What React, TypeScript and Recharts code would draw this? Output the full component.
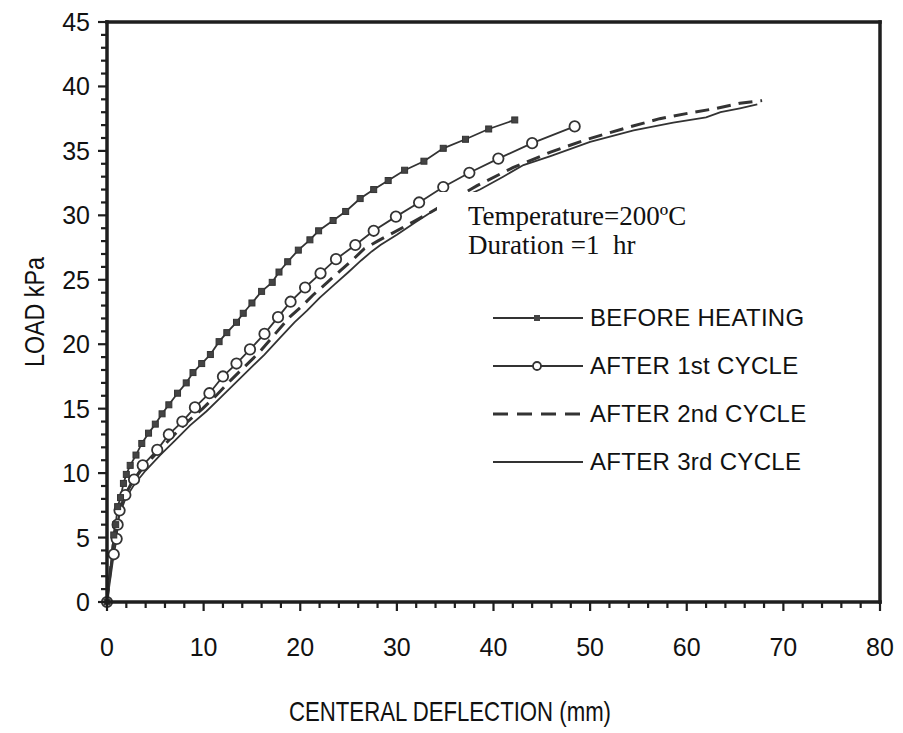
import { LineChart, Line, XAxis, YAxis, Legend, Label } from "recharts";

// deflection (mm), load (kPa)
const beforeHeating: [number, number][] = [
  [0, 0], [0.7, 5.2], [0.9, 6.0], [1.1, 7.4], [1.4, 8.1], [1.7, 9.2], [2.0, 9.9],
  [2.4, 10.6], [3.0, 11.4], [3.6, 12.3], [4.3, 13.1], [5.0, 13.8], [5.7, 14.6],
  [6.4, 15.3], [7.3, 16.2], [8.2, 17.0], [8.9, 17.8], [9.8, 18.5], [10.7, 19.2],
  [11.6, 20.2], [12.4, 20.9], [13.4, 21.7], [14.1, 22.4], [15.0, 23.2], [16.0, 24.1],
  [17.1, 24.8], [17.8, 25.6], [18.7, 26.4], [19.8, 27.3], [21.0, 28.1], [21.9, 28.8],
  [23.4, 29.6], [24.7, 30.3], [26.2, 31.3], [27.6, 32.0], [29.1, 32.7], [30.8, 33.5],
  [32.8, 34.2], [34.8, 35.2], [37.1, 35.9], [39.5, 36.7], [42.2, 37.4],
];

const afterCycle1: [number, number][] = [
  [0, 0], [0.7, 3.7], [1.0, 4.9], [1.1, 6.0], [1.3, 7.1], [1.9, 8.3], [2.8, 9.5],
  [3.7, 10.6], [5.2, 11.8], [6.4, 13.0], [7.8, 14.0], [9.1, 15.1], [10.6, 16.2],
  [12.0, 17.5], [13.4, 18.5], [14.8, 19.6], [16.3, 20.8], [17.7, 22.1], [19.0, 23.3],
  [20.5, 24.4], [22.1, 25.5], [23.7, 26.6], [25.7, 27.7], [27.6, 28.8], [29.9, 29.9],
  [32.3, 31.0], [34.8, 32.2], [37.5, 33.3], [40.5, 34.4], [44.0, 35.6], [48.4, 36.9],
];

const afterCycle2: [number, number][] = [
  [0, 0], [0.5, 3.5], [0.8, 5.5], [1.2, 7.0], [1.8, 8.2], [2.6, 9.3], [3.8, 10.5],
  [5.2, 11.6], [6.6, 12.7], [8.2, 13.9], [9.9, 15.0], [11.4, 16.1], [12.8, 17.2],
  [14.3, 18.3], [15.8, 19.4], [17.4, 20.8], [18.9, 22.1], [20.1, 22.9], [21.3, 23.8],
  [22.8, 24.8], [24.3, 25.8], [25.5, 26.6], [26.6, 27.4], [28.0, 28.0], [29.5, 28.6],
  [31.7, 29.5], [33.4, 30.2], [35.5, 31.1], [38.3, 32.3], [42.0, 33.7], [45.9, 34.9],
  [49.7, 35.9], [53.8, 36.8], [57.2, 37.5], [60.7, 38.0], [63.1, 38.3], [65.5, 38.7],
  [67.8, 38.9],
];

const afterCycle3: [number, number][] = [
  [0, 0], [0.5, 3.3], [0.9, 5.3], [1.3, 6.8], [1.9, 8.0], [2.8, 9.1], [4.0, 10.2],
  [5.5, 11.4], [7.0, 12.5], [8.6, 13.7], [10.3, 14.8], [11.8, 15.9], [13.3, 17.0],
  [14.8, 18.1], [16.3, 19.2], [17.9, 20.5], [19.4, 21.7], [20.7, 22.6], [22.0, 23.6],
  [23.5, 24.6], [25.0, 25.6], [26.3, 26.5], [27.4, 27.2], [28.3, 27.7], [30.0, 28.5],
  [32.0, 29.5], [34.5, 30.7], [36.5, 31.3], [38.6, 32.0], [41.0, 33.0], [43.1, 33.9],
  [45.9, 34.6], [50.0, 35.7], [54.5, 36.6], [58.6, 37.2], [62.0, 37.6], [63.5, 38.0],
  [65.5, 38.3], [67.3, 38.6],
];

const xTicks = [0, 2, 4, 6, 8, 10, 12, 14, 16, 18, 20, 22, 24, 26, 28, 30, 32, 34, 36, 38, 40,
  42, 44, 46, 48, 50, 52, 54, 56, 58, 60, 62, 64, 66, 68, 70, 72, 74, 76, 78, 80];
const yTicks = [0, 1, 2, 3, 4, 5, 6, 7, 8, 9, 10, 11, 12, 13, 14, 15, 16, 17, 18, 19, 20, 21, 22,
  23, 24, 25, 26, 27, 28, 29, 30, 31, 32, 33, 34, 35, 36, 37, 38, 39, 40, 41, 42, 43, 44, 45];

const toRows = (pts: [number, number][]) => pts.map(([defl, load]) => ({ defl, load }));

const INK = "#333";
const AXIS = "#1e1e1e";
const SANS = "'Liberation Sans', Arial, sans-serif";
const SERIF = "'Liberation Serif', 'Times New Roman', serif";

// chart box and the plot area it leaves
const W = 903;
const H = 733;
const MARGIN = { top: 22, right: 23, left: 7, bottom: 0 };
const Y_AXIS_W = 100;
const X_AXIS_H = 131;
const PLOT_W = W - MARGIN.left - MARGIN.right - Y_AXIS_W;
const PLOT_H = H - MARGIN.top - MARGIN.bottom - X_AXIS_H;

// the end ticks also carry the box edges
const XTick = (props: any) => {
  const { x, y, payload } = props;
  const v = payload.value;
  const major = v % 10 === 0;
  const edge = v === xTicks[0] || v === xTicks[xTicks.length - 1];
  return (
    <g>
      {edge && <line x1={x} x2={x} y1={y + 1.75} y2={y - PLOT_H - 1.75} stroke={AXIS} strokeWidth={3.5} />}
      <line x1={x} x2={x} y1={y} y2={y + (major ? 9 : 6)} stroke={AXIS} strokeWidth={2.2} />
      {major && (
        <text x={x} y={y + 54} textAnchor="middle" fontSize={25} fontFamily={SANS} fill="#111">
          {v}
        </text>
      )}
    </g>
  );
};

const YTick = (props: any) => {
  const { x, y, payload } = props;
  const v = payload.value;
  const major = v % 5 === 0;
  const edge = v === yTicks[0] || v === yTicks[yTicks.length - 1];
  return (
    <g>
      {edge && <line x1={x - 1.75} x2={x + PLOT_W + 1.75} y1={y} y2={y} stroke={AXIS} strokeWidth={3.5} />}
      <line x1={x - (major ? 9 : 6)} x2={x} y1={y} y2={y} stroke={AXIS} strokeWidth={2.2} />
      {major && (
        <text x={x - 17} y={y + 9} textAnchor="end" fontSize={25} fontFamily={SANS} fill="#111">
          {v}
        </text>
      )}
    </g>
  );
};

const SquareDot = (props: any) => {
  const { cx, cy, index } = props;
  if (cx == null || cy == null) return <g key={index} />;
  return <rect key={index} x={cx - 3} y={cy - 3} width={6} height={6} fill="#444" stroke={INK} strokeWidth={1} />;
};

const series = [
  { name: "BEFORE HEATING", marker: "square", dash: undefined, width: 1.8 },
  { name: "AFTER 1st CYCLE", marker: "circle", dash: undefined, width: 1.8 },
  { name: "AFTER 2nd CYCLE", marker: "none", dash: "15 9", width: 3 },
  { name: "AFTER 3rd CYCLE", marker: "none", dash: undefined, width: 1.8 },
];

const LegendBox = () => (
  <div style={{ fontFamily: SANS, fontSize: 24, color: "#111" }}>
    {series.map((s) => (
      <div key={s.name} style={{ display: "flex", alignItems: "center", height: 48 }}>
        <svg width={90} height={16} style={{ marginRight: 7 }}>
          <line x1={0} x2={90} y1={8} y2={8} stroke={INK} strokeWidth={s.width} strokeDasharray={s.dash} />
          {s.marker === "square" && <rect x={41} y={5} width={6} height={6} fill="#444" />}
          {s.marker === "circle" && <circle cx={44} cy={8} r={4} fill="#fff" stroke={INK} strokeWidth={1.8} />}
        </svg>
        <span style={{ letterSpacing: 0.3, whiteSpace: "nowrap" }}>{s.name}</span>
      </div>
    ))}
  </div>
);

const XTitle = (props: any) => {
  const { viewBox } = props;
  return (
    <text x={viewBox.x + 343} y={viewBox.y + 119} textAnchor="middle" fontSize={28} fontFamily={SANS}
      fill="#111" textLength={322} lengthAdjust="spacingAndGlyphs">
      CENTERAL DEFLECTION (mm)
    </text>
  );
};

const YTitle = (props: any) => {
  const { viewBox } = props;
  const cx = viewBox.x + 37;
  const cy = viewBox.y + viewBox.height / 2;
  return (
    <text x={cx} y={cy} transform={`rotate(-90 ${cx} ${cy})`} textAnchor="middle" fontSize={28}
      fontFamily={SANS} fill="#111" textLength={110} lengthAdjust="spacingAndGlyphs">
      LOAD kPa
    </text>
  );
};

export default function App() {
  return (
    <div style={{ position: "absolute", left: 0, top: 0, width: W, height: H, background: "#fff" }}>
      <LineChart width={W} height={H} margin={MARGIN}>
        <XAxis
          type="number"
          dataKey="defl"
          domain={[0, 80]}
          ticks={xTicks}
          interval={0}
          height={X_AXIS_H}
          tickSize={0}
          tickMargin={0}
          tickLine={false}
          tick={<XTick />}
          axisLine={false}
        >
          <Label content={<XTitle />} />
        </XAxis>
        <YAxis
          type="number"
          dataKey="load"
          domain={[0, 45]}
          ticks={yTicks}
          interval={0}
          width={Y_AXIS_W}
          tickSize={0}
          tickMargin={0}
          tickLine={false}
          tick={<YTick />}
          axisLine={false}
        >
          <Label content={<YTitle />} />
        </YAxis>
        <Line data={toRows(afterCycle3)} dataKey="load" name="AFTER 3rd CYCLE"
          stroke={INK} strokeWidth={1.8} dot={false} isAnimationActive={false} />
        <Line data={toRows(afterCycle2)} dataKey="load" name="AFTER 2nd CYCLE"
          stroke={INK} strokeWidth={3} strokeDasharray="14 8" dot={false} isAnimationActive={false} />
        <Line data={toRows(afterCycle1)} dataKey="load" name="AFTER 1st CYCLE"
          stroke={INK} strokeWidth={1.8} dot={{ r: 5.2, fill: "#fff", stroke: INK, strokeWidth: 1.8 }}
          isAnimationActive={false} />
        <Line data={toRows(beforeHeating)} dataKey="load" name="BEFORE HEATING"
          stroke={INK} strokeWidth={1.8} dot={SquareDot} isAnimationActive={false} />
        {/* zero-height wrapper so the legend reserves no space below the plot */}
        <Legend
          content={<LegendBox />}
          wrapperStyle={{ position: "absolute", left: 493, top: 294, width: 330, height: 0, overflow: "visible" }}
        />
      </LineChart>
      <div
        style={{
          position: "absolute", left: 437, top: 192, width: 260, height: 76, background: "#fff",
          padding: "10px 0 0 31px", boxSizing: "border-box", fontFamily: SERIF, fontSize: 27,
          lineHeight: "29px", color: "#111", whiteSpace: "pre",
        }}
      >
        <div>Temperature=200ºC</div>
        <div>Duration =1  hr</div>
      </div>
    </div>
  );
}
